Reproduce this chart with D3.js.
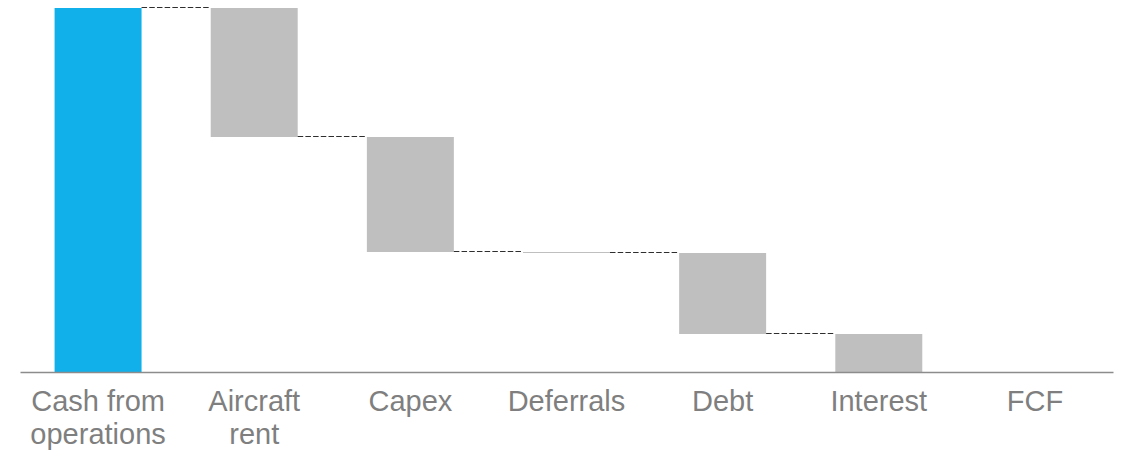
<!DOCTYPE html>
<html>
<head>
<meta charset="utf-8">
<script src="https://cdn.jsdelivr.net/npm/d3@7"></script>
<style>
  html, body { margin: 0; padding: 0; background: #ffffff; }
  svg { display: block; }
</style>
</head>
<body>
<svg id="chart" width="1128" height="452"></svg>
<script>
// Cash bridge: operating cash flow down to free cash flow
const categories = [["Cash from", "operations"], ["Aircraft", "rent"], ["Capex"], ["Deferrals"], ["Debt"], ["Interest"], ["FCF"]];
const kinds = ["total", "delta", "delta", "delta", "delta", "delta", "total"];
const values = [364, -129, -115, -1, -81, -38, 0];

const W = 1128, H = 452;
const margin = { left: 20, right: 15, top: 8, bottom: 80 };
const baseY = 372;

const svg = d3.select("#chart");

// Running totals for the waterfall steps
let running = 0;
const steps = values.map((v, i) => {
  let start, end;
  if (kinds[i] === "total") {
    start = 0; end = v; running = v;
  } else {
    start = running; end = running + v; running = end;
  }
  return { key: categories[i].join(" "), lines: categories[i], kind: kinds[i], start, end };
});

const x = d3.scaleBand()
  .domain(steps.map(d => d.key))
  .range([margin.left, W - margin.right])
  .paddingInner(0.443)
  .paddingOuter(0.2215);

const y = d3.scaleLinear()
  .domain([0, d3.max(steps, d => Math.max(d.start, d.end))])
  .range([baseY, margin.top]);

// Bars
svg.append("g")
  .selectAll("rect")
  .data(steps)
  .join("rect")
  .attr("x", d => x(d.key))
  .attr("width", x.bandwidth())
  .attr("y", d => y(Math.max(d.start, d.end)))
  .attr("height", d => Math.abs(y(d.start) - y(d.end)))
  .attr("fill", d => d.kind === "total" ? "#12b0ea" : "#bfbfbf");

// Dashed connectors between consecutive bars
const links = steps.slice(0, -1)
  .map((d, i) => ({ from: d, to: steps[i + 1], level: d.end }))
  .filter(l => l.level > 0);

svg.append("g")
  .selectAll("line")
  .data(links)
  .join("line")
  .attr("x1", l => x(l.from.key) + x.bandwidth())
  .attr("x2", l => x(l.to.key))
  .attr("y1", l => y(l.level) - 0.5)
  .attr("y2", l => y(l.level) - 0.5)
  .attr("stroke", "#2e2e2e")
  .attr("stroke-width", 1.1)
  .attr("stroke-dasharray", "5.5,2.2");

// Category axis
const axis = svg.append("g")
  .attr("transform", `translate(0,${baseY})`)
  .call(d3.axisBottom(x).tickSize(0).tickSizeOuter(0).tickFormat(""));

axis.select(".domain")
  .attr("stroke", "#8c8c8c")
  .attr("stroke-width", 1.6);

axis.selectAll(".tick text").remove();

axis.selectAll(".tick")
  .append("text")
  .attr("fill", "#7f7f7f")
  .attr("font-family", "'Liberation Sans', Arial, sans-serif")
  .attr("font-size", 29)
  .attr("text-anchor", "middle")
  .each(function(key) {
    const step = steps.find(s => s.key === key);
    const t = d3.select(this);
    step.lines.forEach((ln, i) => {
      t.append("tspan")
        .attr("x", 0)
        .attr("y", 38.5 + i * 33)
        .text(ln);
    });
  });
</script>
</body>
</html>
